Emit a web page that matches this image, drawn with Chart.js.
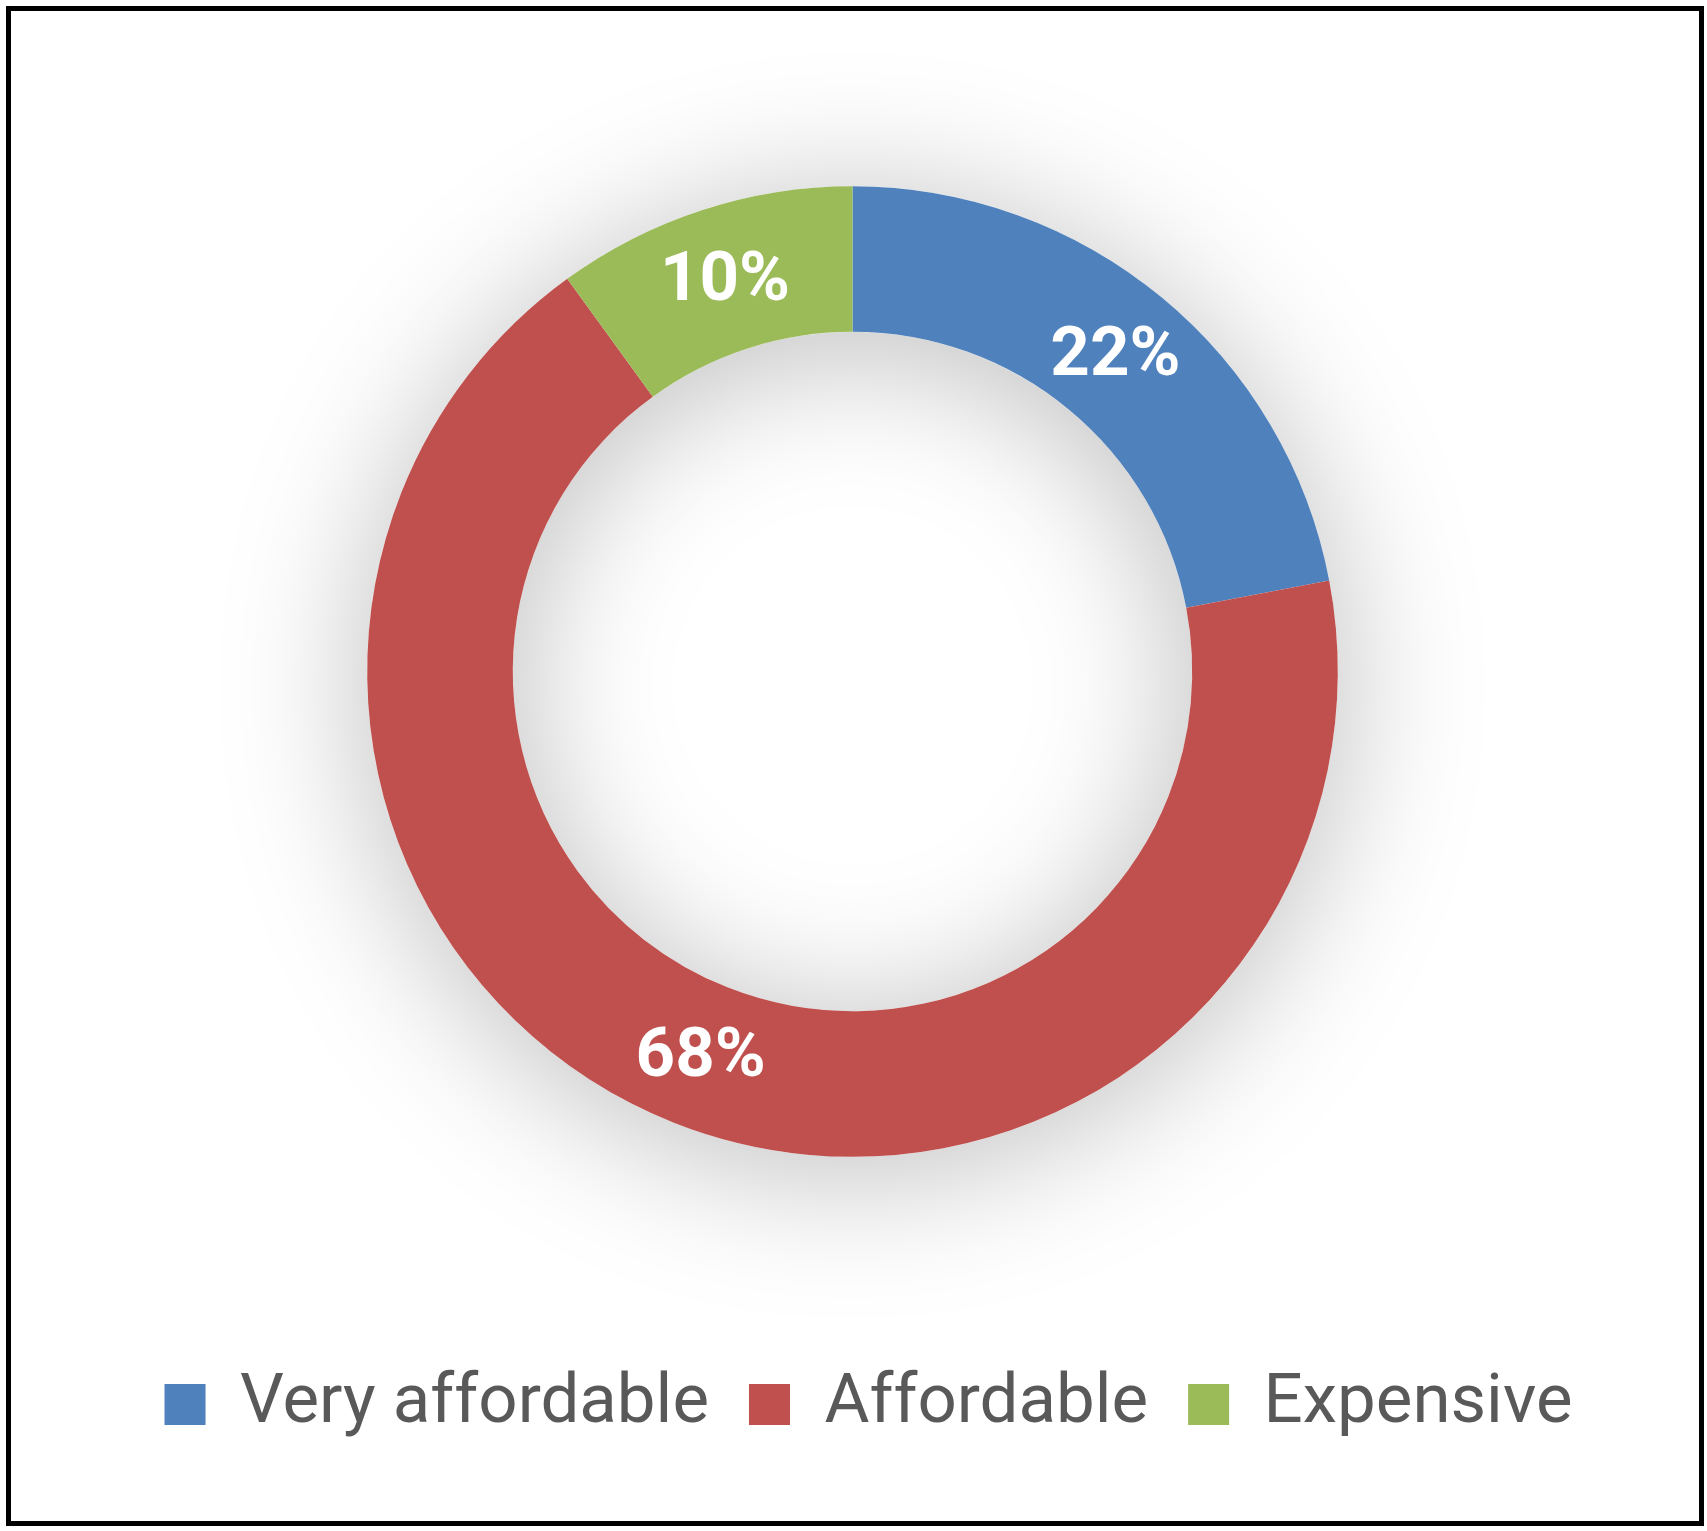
<!DOCTYPE html>
<html>
<head>
<meta charset="utf-8">
<title>Affordability</title>
<script src="https://cdn.jsdelivr.net/npm/chart.js@4/dist/chart.umd.min.js"></script>
<style>
  html, body { margin: 0; padding: 0; background: #fff; }
  .frame {
    position: absolute;
    left: 6px; top: 6px;
    width: 1688px; height: 1510px;
    border: 5px solid #000;
    background: #fff;
  }
  .frame canvas { display: block; }
</style>
</head>
<body>
<div class="frame">
  <canvas id="donut" width="1688" height="1510"></canvas>
</div>
<script>
/* ── Affordability donut ─────────────────────────── */

var categories = ['Very affordable', 'Affordable', 'Expensive'];
var shares     = [22, 68, 10];
var colours    = ['#4f81bd', '#c0504d', '#9bbb59'];

// soft shadow under the ring, drawn before the slices
var ringShadow = {
  id: 'ringShadow',
  beforeDatasetsDraw: function (chart) {
    var arc = chart.getDatasetMeta(0).data[0];
    if (!arc) return;
    var ctx = chart.ctx;
    ctx.save();
    ctx.shadowColor = 'rgba(0, 0, 0, 0.27)';
    ctx.shadowBlur = 145;
    ctx.shadowOffsetY = 14;
    ctx.beginPath();
    ctx.arc(arc.x, arc.y, arc.outerRadius, 0, Math.PI * 2);
    ctx.arc(arc.x, arc.y, arc.innerRadius, 0, Math.PI * 2, true);
    ctx.fillStyle = '#ffffff';
    ctx.fill();
    ctx.restore();
  }
};

// percent labels in the middle of each slice
var sliceLabels = {
  id: 'sliceLabels',
  afterDatasetsDraw: function (chart) {
    var ctx = chart.ctx;
    var meta = chart.getDatasetMeta(0);
    ctx.save();
    ctx.font = 'bold 69px Roboto';
    ctx.fillStyle = '#ffffff';
    ctx.textAlign = 'center';
    ctx.textBaseline = 'middle';
    meta.data.forEach(function (arc, i) {
      var pos = arc.tooltipPosition();
      ctx.fillText(shares[i] + '%', pos.x, pos.y + 4);
    });
    ctx.restore();
  }
};

// legend sits a little right of the chart centre
var legendNudge = {
  id: 'legendNudge',
  afterLayout: function (chart) {
    chart.legend.left += 16;
    chart.legend.right += 16;
  }
};

new Chart(document.getElementById('donut'), {
  type: 'doughnut',
  data: {
    labels: categories,
    datasets: [{
      data: shares,
      backgroundColor: colours,
      borderWidth: 0,
      hoverOffset: 0
    }]
  },
  options: {
    responsive: false,
    animation: false,
    cutout: '70%',
    radius: '73.7%',
    layout: { padding: { top: 2, bottom: 72, left: 0, right: 5 } },
    plugins: {
      tooltip: { enabled: false },
      legend: {
        position: 'bottom',
        labels: {
          boxWidth: 41,
          boxHeight: 41,
          padding: 40,
          color: '#595959',
          font: { family: 'Roboto', size: 69 }
        }
      }
    }
  },
  plugins: [ringShadow, sliceLabels, legendNudge]
});
</script>
</body>
</html>
